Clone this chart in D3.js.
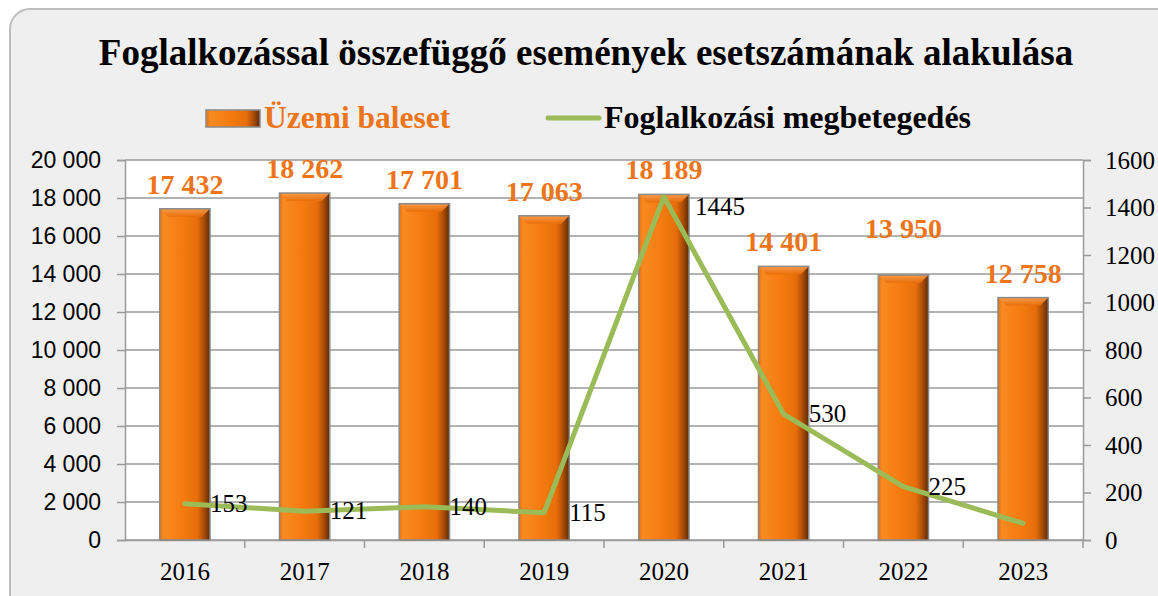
<!DOCTYPE html>
<html><head><meta charset="utf-8">
<script src="https://cdn.jsdelivr.net/npm/d3@7"></script>
<style>html,body{margin:0;padding:0;background:#fff;}svg{display:block;}</style>
</head><body>
<svg id="c" width="1158" height="596"></svg>
<script>
const years = ["2016","2017","2018","2019","2020","2021","2022","2023"];
const accidents = [17432, 18262, 17701, 17063, 18189, 14401, 13950, 12758];
const diseases = [153, 121, 140, 115, 1445, 530, 225, 70];
const diseaseLabels = ["153","121","140","115","1445","530","225",""];
const leftTicks = [0,2000,4000,6000,8000,10000,12000,14000,16000,18000,20000];
const rightTicks = [0,200,400,600,800,1000,1200,1400,1600];
const title = "Foglalkozással összefüggő események esetszámának alakulása";
const seriesNames = ["Üzemi baleset","Foglalkozási megbetegedés"];

const svg = d3.select("#c");
const serif = "'Liberation Serif','Times New Roman',serif";
const sans = "'Liberation Sans',Arial,sans-serif";
const orange = "#ed7418", green = "#9bbb59";
const spaced = d=>d3.format(",")(d).replace(/,/g," ");

// defs
const defs = svg.append("defs");
const g1 = defs.append("linearGradient").attr("id","barG").attr("x1","0").attr("x2","1").attr("y1","0").attr("y2","0");
[[0,"#e8720f"],[0.08,"#f88a22"],[0.45,"#f57b10"],[0.75,"#e66d0a"],[0.88,"#a84c08"],[1,"#5e2a05"]].forEach(s=>g1.append("stop").attr("offset",s[0]).attr("stop-color",s[1]));
const g2 = defs.append("linearGradient").attr("id","bevG").attr("x1","0").attr("x2","0").attr("y1","0").attr("y2","1");
[[0,"#f9a050"],[1,"#e86c08"]].forEach(s=>g2.append("stop").attr("offset",s[0]).attr("stop-color",s[1]));

// frame
svg.append("rect").attr("x",10).attr("y",9).attr("width",1170).attr("height",610).attr("rx",20)
  .attr("fill","#efefef").attr("stroke","#bdbdbd").attr("stroke-width",2);

const M = {l:125, r:1083, t:160, b:540};
const x = d3.scaleBand().domain(years).range([M.l, M.r]).paddingInner(0.58).paddingOuter(0.29);
const xo = d3.scaleBand().domain(years).range([M.l, M.r]);
const yL = d3.scaleLinear().domain([0,20000]).range([M.b, M.t]);
const yR = d3.scaleLinear().domain([0,1600]).range([M.b, M.t]);

// plot bg
svg.append("rect").attr("x",M.l).attr("y",M.t).attr("width",M.r-M.l).attr("height",M.b-M.t).attr("fill","#fff");

// gridlines
svg.append("g").selectAll("line").data(leftTicks).join("line")
  .attr("x1",M.l).attr("x2",M.r).attr("y1",d=>yL(d)).attr("y2",d=>yL(d))
  .attr("stroke","#9a9a9a").attr("stroke-width",1.5);

// left axis
const axL = svg.append("g").attr("transform",`translate(${M.l},0)`)
  .call(d3.axisLeft(yL).tickValues(leftTicks).tickSize(8).tickPadding(16).tickFormat(spaced));
axL.attr("font-family",sans).attr("font-size",23);
axL.select(".domain").attr("stroke","#9a9a9a").attr("stroke-width",1.5);
axL.selectAll(".tick line").attr("stroke","#9a9a9a").attr("stroke-width",1.5);
axL.selectAll("text").style("font-family",sans).style("font-size","23px").attr("fill","#000");

// right axis
const axR = svg.append("g").attr("transform",`translate(${M.r},0)`)
  .call(d3.axisRight(yR).tickValues(rightTicks).tickSize(8).tickPadding(14).tickFormat(d3.format("d")));
axR.attr("font-family",serif).attr("font-size",25);
axR.select(".domain").attr("stroke","#9a9a9a").attr("stroke-width",1.5);
axR.selectAll(".tick line").attr("stroke","#9a9a9a").attr("stroke-width",1.5);
axR.selectAll("text").style("font-family",serif).style("font-size","25px").attr("fill","#000");

// bottom axis
const axB = svg.append("g").attr("transform",`translate(0,${M.b})`)
  .call(d3.axisBottom(xo).tickSize(0).tickPadding(22));
axB.attr("font-family",serif).attr("font-size",25);
axB.select(".domain").attr("stroke","#9a9a9a").attr("stroke-width",1.5);
axB.selectAll("text").style("font-family",serif).style("font-size","25px").attr("fill","#000");
svg.append("g").selectAll("line").data(years).join("line")
  .attr("x1",d=>xo(d)+xo.bandwidth()).attr("x2",d=>xo(d)+xo.bandwidth())
  .attr("y1",M.b).attr("y2",M.b+8).attr("stroke","#9a9a9a").attr("stroke-width",1.5);

// bars
const bars = svg.append("g").selectAll("g").data(accidents).join("g");
bars.append("rect").attr("x",(d,i)=>x(years[i])).attr("y",d=>yL(d)).attr("width",x.bandwidth())
  .attr("height",d=>M.b-yL(d)).attr("fill","url(#barG)");
bars.append("path").attr("d",(d,i)=>{
    const x0=x(years[i]), w=x.bandwidth(), y0=yL(d), h=8;
    return `M${x0},${y0}L${x0+w},${y0}L${x0+w-h},${y0+h}L${x0+h},${y0+h}Z`;})
  .attr("fill","url(#bevG)").attr("opacity",0.9);
bars.append("rect").attr("x",(d,i)=>x(years[i])).attr("y",d=>yL(d)).attr("width",x.bandwidth())
  .attr("height",d=>M.b-yL(d)).attr("fill","none").attr("stroke","#8a8a8a").attr("stroke-width",1.5);

// bar labels
const barLabelOffset = (i)=> i===6 ? 37 : 15;
svg.append("g").selectAll("text").data(accidents).join("text")
  .attr("x",(d,i)=>x(years[i])+x.bandwidth()/2).attr("y",(d,i)=>yL(d)-barLabelOffset(i))
  .attr("text-anchor","middle").style("font-family",serif).attr("font-weight","bold").style("font-size","28px")
  .attr("fill",orange).text(spaced);

// line
const line = d3.line().x((d,i)=>xo(years[i])+xo.bandwidth()/2).y(d=>yR(d));
svg.append("path").datum(diseases).attr("d",line).attr("fill","none").attr("stroke",green)
  .attr("stroke-width",5).attr("stroke-linecap","round").attr("stroke-linejoin","round");

svg.append("g").selectAll("text").data(diseases).join("text")
  .attr("x",(d,i)=>xo(years[i])+xo.bandwidth()/2+(i===4?31:25)).attr("y",(d,i)=>yR(d)+(i===4?18:8))
  .style("font-family",serif).style("font-size","25px").attr("fill","#000")
  .text((d,i)=>diseaseLabels[i]);

// title
svg.append("text").attr("x",586).attr("y",65).attr("text-anchor","middle")
  .style("font-family",serif).attr("font-weight","bold").style("font-size","37px").attr("fill","#000").text(title);

// legend
const lg = svg.append("g");
lg.append("rect").attr("x",206).attr("y",110).attr("width",54).attr("height",17).attr("fill","url(#barG)").attr("stroke","#8a8a8a").attr("stroke-width",1.5);
lg.append("text").attr("x",264).attr("y",128).style("font-family",serif).attr("font-weight","bold").style("font-size","31.5px")
  .attr("fill",orange).text(seriesNames[0]);
lg.append("line").attr("x1",548).attr("x2",599).attr("y1",118).attr("y2",118).attr("stroke",green).attr("stroke-width",5).attr("stroke-linecap","round");
lg.append("text").attr("x",604).attr("y",128).style("font-family",serif).attr("font-weight","bold").style("font-size","32px")
  .attr("fill","#000").text(seriesNames[1]);
</script>
</body></html>
